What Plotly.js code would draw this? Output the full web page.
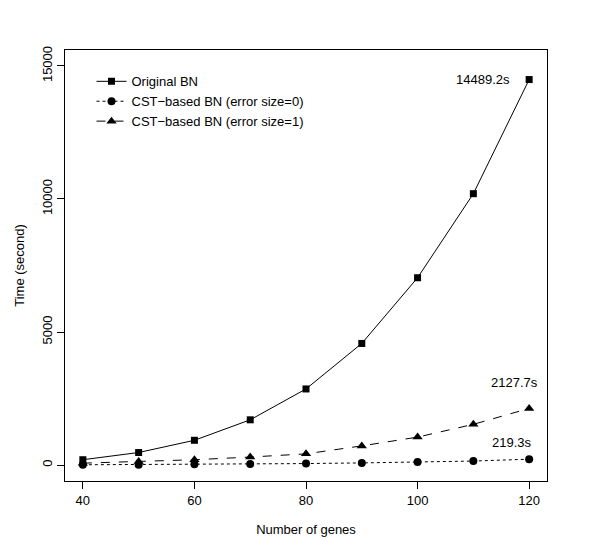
<!DOCTYPE html>
<html>
<head>
<meta charset="utf-8">
<script src="https://cdn.plot.ly/plotly-3.0.1.min.js"></script>
<style>html,body{margin:0;padding:0;background:#fff}#chart{width:600px;height:548px}</style>
</head>
<body>
<div id="chart"></div>
<script>
const genes = [40, 50, 60, 70, 80, 90, 100, 110, 120];
const originalBN = [200, 470, 930, 1700, 2860, 4570, 7040, 10200, 14489.2];
const cstErr0 = [10, 15, 25, 40, 55, 80, 110, 150, 219.3];
const cstErr1 = [70, 130, 200, 300, 420, 720, 1050, 1530, 2127.7];
const seriesNames = ["Original BN", "CST\u2212based BN (error size=0)", "CST\u2212based BN (error size=1)"];
const endLabels = ["14489.2s", "219.3s", "2127.7s"];
const xTicks = [40, 60, 80, 100, 120];
const yTicks = [0, 5000, 10000, 15000];
const yTickText = ["0", "5000", "10000", "15000"];

const font = "Liberation Sans, Arial, Helvetica, sans-serif";
const traces = [
  {x: genes, y: originalBN, name: seriesNames[0], mode: "lines+markers", type: "scatter",
   line: {color: "#000", width: 1, dash: "solid"}, marker: {symbol: "square", size: 7, color: "#000"}},
  {x: genes, y: cstErr0, name: seriesNames[1], mode: "lines+markers", type: "scatter",
   line: {color: "#000", width: 1, dash: "dot"}, marker: {symbol: "circle", size: 8, color: "#000"}},
  {x: genes, y: cstErr1, name: seriesNames[2], mode: "lines+markers", type: "scatter",
   line: {color: "#000", width: 1, dash: "dash"}, marker: {symbol: "triangle-up", size: 9, color: "#000"}}
];

const last = genes.length - 1;
const annotations = [
  {x: genes[last], y: originalBN[last], text: endLabels[0], showarrow: false, xanchor: "center", yanchor: "middle", xshift: -46, yshift: 0},
  {x: genes[last], y: cstErr1[last], text: endLabels[2], showarrow: false, xanchor: "center", yanchor: "middle", xshift: -15, yshift: 26},
  {x: genes[last], y: cstErr0[last], text: endLabels[1], showarrow: false, xanchor: "center", yanchor: "middle", xshift: -17, yshift: 17}
].map(a => Object.assign(a, {xref: "x", yref: "y", font: {family: font, size: 13, color: "#000"}}));

const layout = {
  width: 600, height: 548,
  margin: {l: 65, r: 53, t: 50, b: 67},
  paper_bgcolor: "#fff", plot_bgcolor: "#fff",
  font: {family: font, size: 13, color: "#000"},
  showlegend: true,
  legend: {x: 0.055, y: 0.962, xanchor: "left", yanchor: "top", bgcolor: "rgba(0,0,0,0)",
           font: {family: font, size: 13, color: "#000"}, tracegroupgap: 0, itemwidth: 30},
  xaxis: {range: [36.8, 123.2], tickvals: xTicks, ticks: "outside", ticklen: 7,
          tickcolor: "#000", showline: true, mirror: true, linecolor: "#000", linewidth: 1,
          showgrid: false, zeroline: false, tickfont: {family: font, size: 13},
          title: {text: "Number of genes", font: {family: font, size: 13}, standoff: 18}},
  yaxis: {range: [-600, 15600], tickvals: yTicks, ticktext: yTickText, ticks: "outside", ticklen: 7,
          tickcolor: "#000", showline: true, mirror: true, linecolor: "#000", linewidth: 1,
          showgrid: false, zeroline: false, tickangle: -90, tickfont: {family: font, size: 13},
          title: {text: "Time (second)", font: {family: font, size: 13}, standoff: 12}},
  annotations: annotations
};

Plotly.newPlot("chart", traces, layout, {displayModeBar: false, staticPlot: true});
</script>
</body>
</html>
